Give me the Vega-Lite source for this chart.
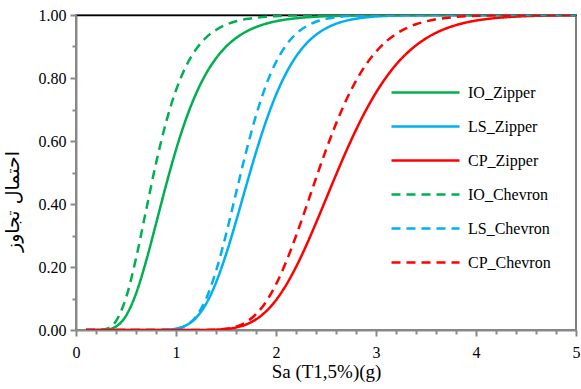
{
  "$schema": "https://vega.github.io/schema/vega-lite/v6.json",
  "width": 500,
  "height": 315,
  "autosize": {"type": "none"},
  "padding": {"left": 76, "top": 15, "right": 5, "bottom": 59},
  "background": "white",
  "config": {"view": {"stroke": "#808080", "strokeWidth": 2}, "font": "Liberation Serif"},
  "data": {"values": [
    {"s":"IO_Zipper","x":0.1,"p":0},{"s":"IO_Zipper","x":0.2,"p":0},{"s":"IO_Zipper","x":0.3,"p":0.001},{"s":"IO_Zipper","x":0.4,"p":0.0109},{"s":"IO_Zipper","x":0.5,"p":0.0453},{"s":"IO_Zipper","x":0.6,"p":0.1153},{"s":"IO_Zipper","x":0.7,"p":0.2177},{"s":"IO_Zipper","x":0.8,"p":0.3372},{"s":"IO_Zipper","x":0.9,"p":0.459},{"s":"IO_Zipper","x":1.0,"p":0.5722},{"s":"IO_Zipper","x":1.1,"p":0.6697},{"s":"IO_Zipper","x":1.2,"p":0.7499},{"s":"IO_Zipper","x":1.3,"p":0.8135},{"s":"IO_Zipper","x":1.4,"p":0.8624},{"s":"IO_Zipper","x":1.5,"p":0.8994},{"s":"IO_Zipper","x":1.6,"p":0.9268},{"s":"IO_Zipper","x":1.7,"p":0.947},{"s":"IO_Zipper","x":1.8,"p":0.9616},{"s":"IO_Zipper","x":1.9,"p":0.9723},{"s":"IO_Zipper","x":2.0,"p":0.9801},{"s":"IO_Zipper","x":2.2,"p":0.9896},{"s":"IO_Zipper","x":2.4,"p":0.9946},{"s":"IO_Zipper","x":2.6,"p":0.9971},{"s":"IO_Zipper","x":2.8,"p":0.9985},{"s":"IO_Zipper","x":3.0,"p":0.9992},{"s":"IO_Zipper","x":3.5,"p":0.9999},{"s":"IO_Zipper","x":4.0,"p":1},{"s":"IO_Zipper","x":5.0,"p":1},
    {"s":"LS_Zipper","x":0.1,"p":0},{"s":"LS_Zipper","x":0.8,"p":0.0001},{"s":"LS_Zipper","x":0.9,"p":0.0008},{"s":"LS_Zipper","x":1.0,"p":0.0042},{"s":"LS_Zipper","x":1.1,"p":0.0145},{"s":"LS_Zipper","x":1.2,"p":0.0384},{"s":"LS_Zipper","x":1.3,"p":0.0826},{"s":"LS_Zipper","x":1.4,"p":0.1503},{"s":"LS_Zipper","x":1.5,"p":0.2398},{"s":"LS_Zipper","x":1.6,"p":0.3446},{"s":"LS_Zipper","x":1.7,"p":0.4558},{"s":"LS_Zipper","x":1.8,"p":0.564},{"s":"LS_Zipper","x":1.9,"p":0.6624},{"s":"LS_Zipper","x":2.0,"p":0.7463},{"s":"LS_Zipper","x":2.1,"p":0.8146},{"s":"LS_Zipper","x":2.2,"p":0.868},{"s":"LS_Zipper","x":2.3,"p":0.9081},{"s":"LS_Zipper","x":2.4,"p":0.9371},{"s":"LS_Zipper","x":2.5,"p":0.9578},{"s":"LS_Zipper","x":2.6,"p":0.9721},{"s":"LS_Zipper","x":2.7,"p":0.9818},{"s":"LS_Zipper","x":2.8,"p":0.9882},{"s":"LS_Zipper","x":3.0,"p":0.9953},{"s":"LS_Zipper","x":3.2,"p":0.9981},{"s":"LS_Zipper","x":3.5,"p":0.9996},{"s":"LS_Zipper","x":4.0,"p":1},{"s":"LS_Zipper","x":5.0,"p":1},
    {"s":"CP_Zipper","x":0.1,"p":0},{"s":"CP_Zipper","x":1.2,"p":0},{"s":"CP_Zipper","x":1.3,"p":0.0003},{"s":"CP_Zipper","x":1.4,"p":0.0011},{"s":"CP_Zipper","x":1.5,"p":0.0032},{"s":"CP_Zipper","x":1.6,"p":0.008},{"s":"CP_Zipper","x":1.7,"p":0.0173},{"s":"CP_Zipper","x":1.8,"p":0.0336},{"s":"CP_Zipper","x":1.9,"p":0.0589},{"s":"CP_Zipper","x":2.0,"p":0.0948},{"s":"CP_Zipper","x":2.1,"p":0.1421},{"s":"CP_Zipper","x":2.2,"p":0.1999},{"s":"CP_Zipper","x":2.3,"p":0.2666},{"s":"CP_Zipper","x":2.4,"p":0.3398},{"s":"CP_Zipper","x":2.5,"p":0.416},{"s":"CP_Zipper","x":2.6,"p":0.4924},{"s":"CP_Zipper","x":2.7,"p":0.5663},{"s":"CP_Zipper","x":2.8,"p":0.6353},{"s":"CP_Zipper","x":2.9,"p":0.6981},{"s":"CP_Zipper","x":3.0,"p":0.7536},{"s":"CP_Zipper","x":3.1,"p":0.8015},{"s":"CP_Zipper","x":3.2,"p":0.8423},{"s":"CP_Zipper","x":3.3,"p":0.876},{"s":"CP_Zipper","x":3.4,"p":0.9035},{"s":"CP_Zipper","x":3.5,"p":0.9258},{"s":"CP_Zipper","x":3.6,"p":0.9434},{"s":"CP_Zipper","x":3.7,"p":0.9572},{"s":"CP_Zipper","x":3.8,"p":0.9678},{"s":"CP_Zipper","x":3.9,"p":0.976},{"s":"CP_Zipper","x":4.0,"p":0.9823},{"s":"CP_Zipper","x":4.2,"p":0.9904},{"s":"CP_Zipper","x":4.4,"p":0.9949},{"s":"CP_Zipper","x":4.6,"p":0.9974},{"s":"CP_Zipper","x":4.8,"p":0.9987},{"s":"CP_Zipper","x":5.0,"p":0.9993},
    {"s":"IO_Chevron","x":0.1,"p":0},{"s":"IO_Chevron","x":0.2,"p":0.0001},{"s":"IO_Chevron","x":0.3,"p":0.0032},{"s":"IO_Chevron","x":0.4,"p":0.0282},{"s":"IO_Chevron","x":0.5,"p":0.102},{"s":"IO_Chevron","x":0.6,"p":0.2269},{"s":"IO_Chevron","x":0.7,"p":0.3787},{"s":"IO_Chevron","x":0.8,"p":0.529},{"s":"IO_Chevron","x":0.9,"p":0.6587},{"s":"IO_Chevron","x":1.0,"p":0.7611},{"s":"IO_Chevron","x":1.1,"p":0.837},{"s":"IO_Chevron","x":1.2,"p":0.8908},{"s":"IO_Chevron","x":1.3,"p":0.9279},{"s":"IO_Chevron","x":1.4,"p":0.9526},{"s":"IO_Chevron","x":1.5,"p":0.9692},{"s":"IO_Chevron","x":1.6,"p":0.98},{"s":"IO_Chevron","x":1.7,"p":0.987},{"s":"IO_Chevron","x":1.8,"p":0.9916},{"s":"IO_Chevron","x":2.0,"p":0.9964},{"s":"IO_Chevron","x":2.2,"p":0.9985},{"s":"IO_Chevron","x":2.5,"p":0.9996},{"s":"IO_Chevron","x":3.0,"p":1},{"s":"IO_Chevron","x":5.0,"p":1},
    {"s":"LS_Chevron","x":0.1,"p":0},{"s":"LS_Chevron","x":0.8,"p":0},{"s":"LS_Chevron","x":0.9,"p":0.0005},{"s":"LS_Chevron","x":1.0,"p":0.0034},{"s":"LS_Chevron","x":1.1,"p":0.0142},{"s":"LS_Chevron","x":1.2,"p":0.0425},{"s":"LS_Chevron","x":1.3,"p":0.0987},{"s":"LS_Chevron","x":1.4,"p":0.187},{"s":"LS_Chevron","x":1.5,"p":0.3033},{"s":"LS_Chevron","x":1.6,"p":0.434},{"s":"LS_Chevron","x":1.7,"p":0.564},{"s":"LS_Chevron","x":1.8,"p":0.681},{"s":"LS_Chevron","x":1.9,"p":0.777},{"s":"LS_Chevron","x":2.0,"p":0.8505},{"s":"LS_Chevron","x":2.1,"p":0.9037},{"s":"LS_Chevron","x":2.2,"p":0.94},{"s":"LS_Chevron","x":2.3,"p":0.9637},{"s":"LS_Chevron","x":2.4,"p":0.9786},{"s":"LS_Chevron","x":2.5,"p":0.9876},{"s":"LS_Chevron","x":2.6,"p":0.993},{"s":"LS_Chevron","x":2.8,"p":0.9979},{"s":"LS_Chevron","x":3.0,"p":0.9994},{"s":"LS_Chevron","x":3.5,"p":1},{"s":"LS_Chevron","x":5.0,"p":1},
    {"s":"CP_Chevron","x":0.1,"p":0},{"s":"CP_Chevron","x":1.3,"p":0},{"s":"CP_Chevron","x":1.4,"p":0.0012},{"s":"CP_Chevron","x":1.5,"p":0.0039},{"s":"CP_Chevron","x":1.6,"p":0.0108},{"s":"CP_Chevron","x":1.7,"p":0.0249},{"s":"CP_Chevron","x":1.8,"p":0.0501},{"s":"CP_Chevron","x":1.9,"p":0.0895},{"s":"CP_Chevron","x":2.0,"p":0.1448},{"s":"CP_Chevron","x":2.1,"p":0.2153},{"s":"CP_Chevron","x":2.2,"p":0.2984},{"s":"CP_Chevron","x":2.3,"p":0.3886},{"s":"CP_Chevron","x":2.4,"p":0.4817},{"s":"CP_Chevron","x":2.5,"p":0.5718},{"s":"CP_Chevron","x":2.6,"p":0.6547},{"s":"CP_Chevron","x":2.7,"p":0.7284},{"s":"CP_Chevron","x":2.8,"p":0.791},{"s":"CP_Chevron","x":2.9,"p":0.8425},{"s":"CP_Chevron","x":3.0,"p":0.8836},{"s":"CP_Chevron","x":3.1,"p":0.9156},{"s":"CP_Chevron","x":3.2,"p":0.9397},{"s":"CP_Chevron","x":3.3,"p":0.9576},{"s":"CP_Chevron","x":3.4,"p":0.9706},{"s":"CP_Chevron","x":3.5,"p":0.9798},{"s":"CP_Chevron","x":3.6,"p":0.9863},{"s":"CP_Chevron","x":3.8,"p":0.9939},{"s":"CP_Chevron","x":4.0,"p":0.9974},{"s":"CP_Chevron","x":4.4,"p":0.9996},{"s":"CP_Chevron","x":5.0,"p":1}
  ]},
  "mark": {"type": "line", "interpolate": "monotone", "strokeWidth": 2.5, "clip": true},
  "encoding": {
    "x": {
      "field": "x", "type": "quantitative",
      "scale": {"domain": [0, 5], "nice": false},
      "axis": {
        "title": "Sa (T1,5%)(g)",
        "titleFont": "Liberation Serif", "titleFontSize": 19, "titleFontWeight": "normal", "titleColor": "black", "titlePadding": 2,
        "values": [0,0.2,0.4,0.6,0.8,1,1.2,1.4,1.6,1.8,2,2.2,2.4,2.6,2.8,3,3.2,3.4,3.6,3.8,4,4.2,4.4,4.6,4.8,5],
        "labelExpr": "abs(datum.value - round(datum.value)) < 0.001 ? toString(round(datum.value)) : ''",
        "labelFont": "Liberation Serif", "labelFontSize": 16, "labelColor": "black", "labelPadding": 8,
        "labelFlush": false, "labelOverlap": false,
        "domainColor": "#898989", "domainWidth": 2,
        "tickColor": "#898989", "tickWidth": 2,
        "tickSize": {"condition": {"test": "abs(datum.value - round(datum.value)) < 0.001", "value": 6}, "value": 4},
        "grid": false
      }
    },
    "y": {
      "field": "p", "type": "quantitative",
      "scale": {"domain": [0, 1], "nice": false},
      "axis": {
        "title": "احتمال تجاوز",
        "titleFont": "DejaVu Sans", "titleFontSize": 19, "titleFontWeight": "normal", "titleColor": "black",
        "titleAngle": -90, "titleX": -64, "titleY": 186, "titleAlign": "center", "titleBaseline": "middle",
        "values": [0,0.1,0.2,0.3,0.4,0.5,0.6,0.7,0.8,0.9,1],
        "labelExpr": "round(datum.value*10) % 2 === 0 ? format(datum.value, '.2f') : ''",
        "labelFont": "Liberation Serif", "labelFontSize": 16, "labelColor": "black", "labelPadding": 4,
        "labelFlush": false, "labelOverlap": false,
        "domainColor": "#898989", "domainWidth": 2,
        "tickColor": "#898989", "tickWidth": 2,
        "tickSize": {"condition": {"test": "round(datum.value*10) % 2 === 0", "value": 6}, "value": 4},
        "grid": true, "gridColor": "black", "gridWidth": 1.5,
        "gridOpacity": {"condition": {"test": "datum.value === 1", "value": 1}, "value": 0}
      }
    },
    "color": {
      "field": "s", "type": "nominal",
      "scale": {"domain": ["IO_Zipper","LS_Zipper","CP_Zipper","IO_Chevron","LS_Chevron","CP_Chevron"],
                "range": ["#00B050","#00B0F0","#FF0000","#00B050","#00B0F0","#FF0000"]},
      "legend": {"title": null, "orient": "none", "legendX": 331, "legendY": 59, "padding": 0,
                 "symbolType": "M-2,0H2", "symbolSize": 1156, "symbolStrokeWidth": 2.5,
                 "labelFont": "Liberation Serif", "labelFontSize": 16, "labelColor": "black", "labelOffset": 24,
                 "rowPadding": 7, "labelLimit": 200}
    },
    "strokeDash": {
      "field": "s", "type": "nominal",
      "scale": {"domain": ["IO_Zipper","LS_Zipper","CP_Zipper","IO_Chevron","LS_Chevron","CP_Chevron"],
                "range": [[1,0],[1,0],[1,0],[9,6],[9,6],[9,6]]},
      "legend": {"title": null, "orient": "none", "legendX": 331, "legendY": 59, "padding": 0,
                 "symbolType": "M-2,0H2", "symbolSize": 1156, "symbolStrokeWidth": 2.5,
                 "labelFont": "Liberation Serif", "labelFontSize": 16, "labelColor": "black", "labelOffset": 24,
                 "rowPadding": 7, "labelLimit": 200}
    }
  }
}
